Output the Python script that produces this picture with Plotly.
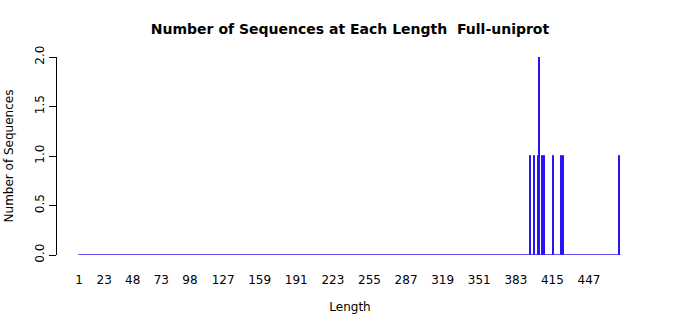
import plotly.graph_objects as go

# Sequence lengths that occur, and how many sequences have each length
lengths = [396, 399, 403, 404, 406, 408, 416, 423, 425, 474]
counts = [1, 1, 1, 2, 1, 1, 1, 1, 1, 1]
min_length = 1

tick_vals = [1, 23, 48, 73, 98, 127, 159, 191, 223, 255, 287, 319, 351, 383, 415, 447]
y_ticks = [0.0, 0.5, 1.0, 1.5, 2.0]

bar_color = "rgb(40,20,245)"

fig = go.Figure()
# zero-height bars show as a baseline across the whole length range
fig.add_trace(go.Scatter(
    x=[min_length - 0.5, max(lengths) + 0.5], y=[0, 0], mode="lines",
    line=dict(color=bar_color, width=1.3), hoverinfo="skip", showlegend=False))
fig.add_trace(go.Bar(
    x=lengths, y=counts, width=1.0,
    marker=dict(color=bar_color, line=dict(color=bar_color, width=1.0)),
    showlegend=False))

fig.update_layout(
    width=700, height=315,
    margin=dict(l=57, r=57, t=57, b=60),
    paper_bgcolor="white", plot_bgcolor="white",
    font=dict(family="DejaVu Sans", size=12, color="black"),
    title=dict(text="<b>Number of Sequences at Each Length  Full-uniprot</b>",
               x=0.5, xanchor="center", y=0.908, yanchor="middle",
               font=dict(size=14)),
    bargap=0,
)
fig.update_xaxes(
    range=[-18.24, 494.2], tickmode="array", tickvals=tick_vals,
    ticktext=[str(v) for v in tick_vals], automargin=False,
    showline=False, showgrid=False, zeroline=False, ticks="",
    ticklabelstandoff=16, tickfont=dict(size=12),
    title=dict(text="Length", standoff=16, font=dict(size=12)),
)
fig.update_yaxes(
    range=[0, 2], tickmode="array", tickvals=y_ticks,
    ticktext=[f"{v:.1f}" for v in y_ticks], automargin=False,
    showline=True, linecolor="black", linewidth=1,
    ticks="outside", ticklen=7, tickcolor="black", tickwidth=1,
    showgrid=False, zeroline=False, tickangle=-90,
    tickfont=dict(size=12),
    title=dict(text="Number of Sequences", standoff=17, font=dict(size=12)),
)

fig.write_html("out.html")
